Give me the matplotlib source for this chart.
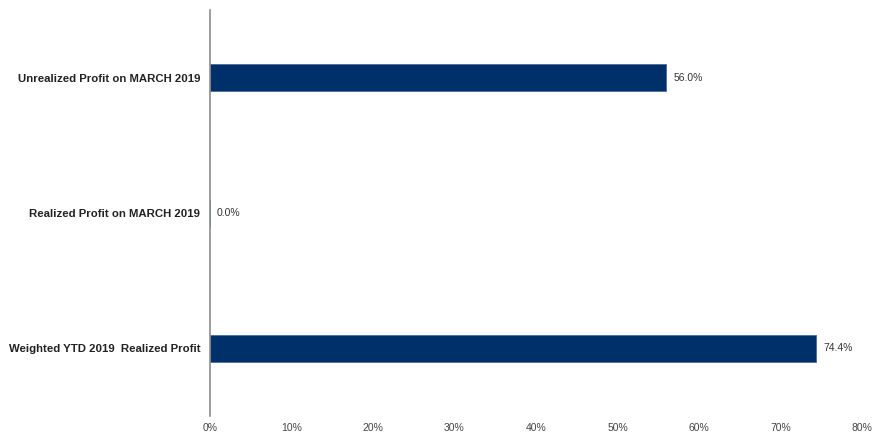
import matplotlib
matplotlib.use("Agg")
import matplotlib.pyplot as plt
from matplotlib.ticker import FuncFormatter, MultipleLocator

categories = ["Weighted YTD 2019  Realized Profit",
              "Realized Profit on MARCH 2019",
              "Unrealized Profit on MARCH 2019"]
values = [74.4, 0.0, 56.0]
value_labels = ["74.4%", "0.0%", "56.0%"]

plt.rcParams['font.family'] = ['Liberation Sans', 'DejaVu Sans']

fig = plt.figure(figsize=(8.72, 4.37), dpi=100)
ax = fig.add_axes([210/872, 1-416/437, (862-210)/872, (416-10)/437])

ypos = list(range(len(categories)))
ax.barh(ypos, values, height=0.2, color="#00306A", edgecolor="#4A6A9A", linewidth=0.6)

for y, v, lab in zip(ypos, values, value_labels):
    ax.annotate(lab, xy=(v, y), xytext=(5, 0), textcoords="offset points",
                ha="left", va="center", fontsize=7.5, color="#333333")

ax.set_xlim(0, 80)
ax.set_ylim(-0.5, 2.5)
ax.xaxis.set_major_locator(MultipleLocator(10))
ax.xaxis.set_major_formatter(FuncFormatter(lambda x, p: f"{x:.0f}%"))
ax.set_yticks(ypos)
ax.set_yticklabels(categories, fontsize=8.2, fontweight="bold", color="#222222")
ax.tick_params(axis="y", length=0, pad=7)
ax.tick_params(axis="x", length=0, pad=5, labelsize=7.5, labelcolor="#444444")

for s in ["top", "right", "bottom"]:
    ax.spines[s].set_visible(False)
ax.spines["left"].set_color("#8C8C8C")
ax.spines["left"].set_linewidth(1.2)

fig.savefig("out.png", dpi=100)
